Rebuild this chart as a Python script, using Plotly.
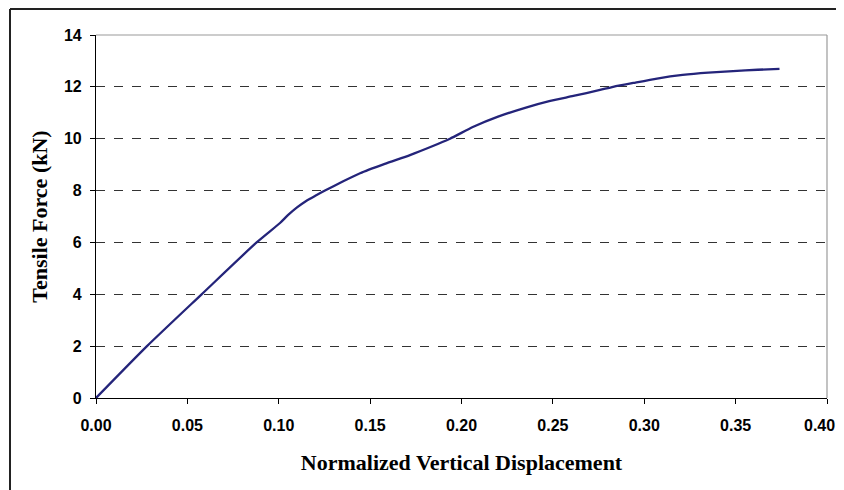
import plotly.graph_objects as go

displacement = [0.0, 0.0279, 0.0578, 0.0879, 0.1007, 0.105, 0.110, 0.115, 0.120, 0.1253,
                0.135, 0.1445, 0.158, 0.1718, 0.183, 0.1937, 0.2065, 0.220, 0.2357, 0.248,
                0.2612, 0.2758, 0.283, 0.294, 0.307, 0.321, 0.335, 0.3486, 0.362, 0.374]
force = [0.0, 2.0, 4.0, 6.0, 6.75, 7.05, 7.35, 7.60, 7.80, 8.0,
         8.35, 8.67, 9.03, 9.37, 9.68, 10.0, 10.46, 10.85, 11.21, 11.45,
         11.65, 11.88, 12.0, 12.15, 12.32, 12.46, 12.55, 12.61, 12.66, 12.69]

x_ticks = [0.0, 0.05, 0.10, 0.15, 0.20, 0.25, 0.30, 0.35, 0.40]
y_ticks = [0, 2, 4, 6, 8, 10, 12, 14]

fig = go.Figure()
fig.add_trace(go.Scatter(x=displacement, y=force, mode="lines",
                         line=dict(color="#24247A", width=2.3, shape="spline", smoothing=0.6),
                         showlegend=False))

# page body has an 8px margin, so the figure starts 8px in from the window corner
W, H = 836, 482
L, R, T, B = 88, 17, 27, 92
PW, PH = W - L - R, H - T - B

tick_font = dict(family="Liberation Sans, Arial", size=16, color="black", weight="bold")
title_font = dict(family="Liberation Serif, Times New Roman", size=22, color="black")

x_labels = [f"{v:.2f}" for v in x_ticks]
# the last label would be cut by the window edge, so it is drawn as an annotation nudged left
x_axis_labels = x_labels[:-1] + [""]

fig.update_layout(
    width=W, height=H,
    margin=dict(l=L, r=R, t=T, b=B),
    paper_bgcolor="white", plot_bgcolor="white",
    xaxis=dict(range=[0, 0.40], tickvals=x_ticks, ticktext=x_axis_labels,
               automargin=False,
               showgrid=False, zeroline=False, showline=True, linecolor="black", linewidth=1.2,
               ticks="outside", ticklen=5, tickcolor="black", tickwidth=1.2,
               tickfont=tick_font, ticklabelstandoff=8,
               title=dict(text="<b>Normalized Vertical Displacement</b>", font=title_font,
                          standoff=21)),
    yaxis=dict(range=[0, 14], tickvals=y_ticks, ticktext=[str(v) for v in y_ticks],
               automargin=False,
               showgrid=True, gridcolor="#333333", griddash="dash", gridwidth=1,
               zeroline=False, showline=True, linecolor="black", linewidth=1.2,
               ticks="outside", ticklen=5, tickcolor="black", tickwidth=1.2,
               tickfont=tick_font, ticklabelstandoff=5,
               title=dict(text="<b>Tensile Force (kN)</b>", font=title_font,
                          standoff=10)),
    annotations=[
        dict(text=x_labels[-1], x=x_ticks[-1], xref="x", y=-27 / PH, yref="paper",
             xanchor="center", yanchor="middle", xshift=-8, showarrow=False,
             font=tick_font),
    ],
    shapes=[
        dict(type="line", xref="paper", yref="paper", x0=0, x1=1, y0=1, y1=1,
             line=dict(color="#9a9a9a", width=1.2)),
        dict(type="line", xref="paper", yref="paper", x0=1, x1=1, y0=0, y1=1,
             line=dict(color="#9a9a9a", width=1.2)),
        dict(type="line", xref="paper", yref="paper",
             x0=(2 - L) / PW, x1=(W + 5 - L) / PW,
             y0=1 + (T - 1) / PH, y1=1 + (T - 1) / PH,
             line=dict(color="#222222", width=2)),
        dict(type="line", xref="paper", yref="paper",
             x0=(2 - L) / PW, x1=(2 - L) / PW,
             y0=-(B + 5) / PH, y1=1 + (T - 1) / PH,
             line=dict(color="#222222", width=2)),
    ],
)

fig.write_html("out.html")
